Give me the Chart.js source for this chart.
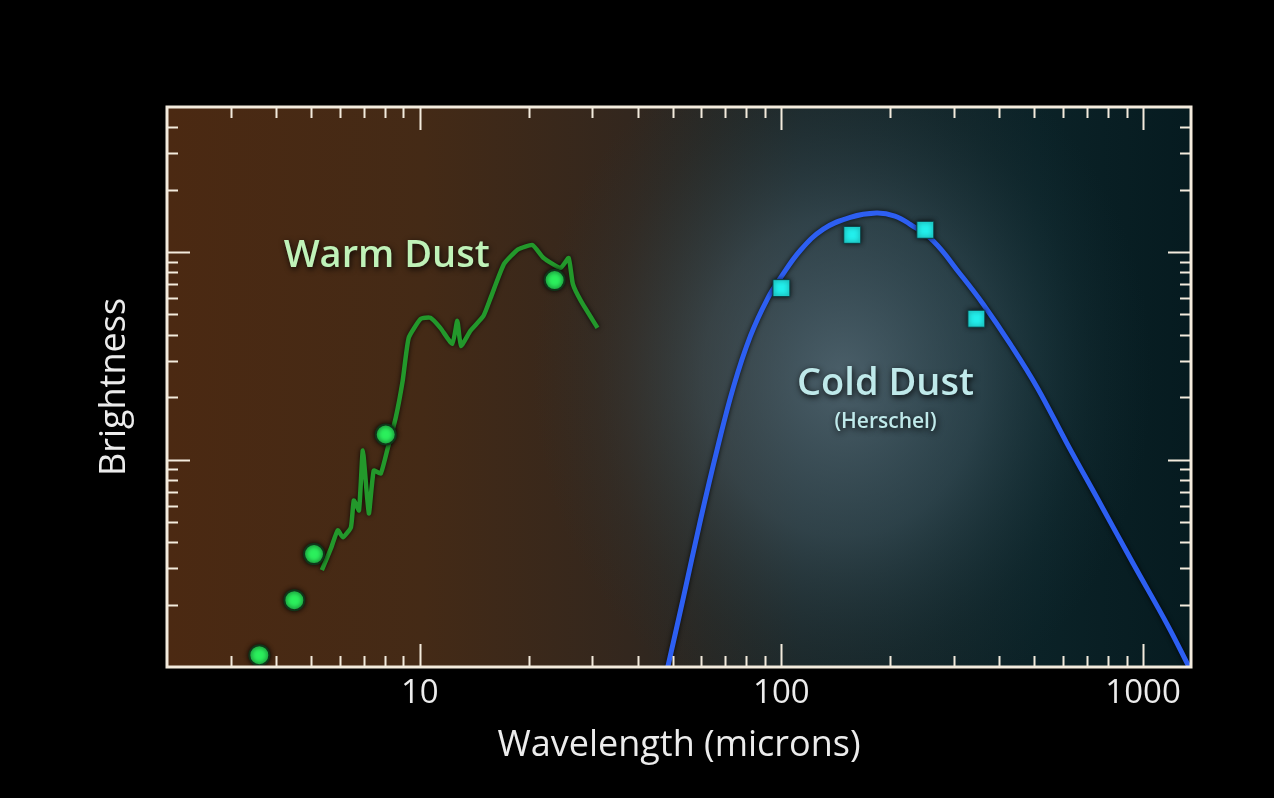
<!DOCTYPE html>
<html>
<head>
<meta charset="utf-8">
<script src="https://cdn.jsdelivr.net/npm/chart.js@4.4.1/dist/chart.umd.min.js"></script>
<style>
    html, body { margin: 0; padding: 0; background: #000; }
    #wrap { width: 1274px; height: 798px; }
</style>
</head>
<body>
<div id="wrap"><canvas id="sedChart" width="1274" height="798"></canvas></div>
<script>
// warm dust spectrum (wavelength in microns, brightness)
const spectrumWave = [5.36, 5.68, 5.93, 6.13, 6.45, 6.57, 6.79, 6.96, 7.23, 7.46, 7.80, 8.16, 8.58, 8.97, 9.32,
    10.06, 10.7, 11.4, 12.3, 12.7, 13.0, 13.8, 15.0, 15.7, 17.1, 18.7, 20.5, 22.0, 24.5, 25.8, 26.5, 27.9, 31.0];
const spectrumFlux = [0.293, 0.373, 0.456, 0.422, 0.471, 0.635, 0.569, 1.105, 0.550, 0.885, 0.856, 1.14, 1.59, 2.40, 3.86,
    4.76, 4.82, 4.31, 3.61, 4.66, 3.53, 4.17, 4.92, 6.01, 8.76, 10.3, 10.8, 9.36, 8.38, 9.36, 7.02, 5.81, 4.31];

// warm dust photometry (green dots)
const warmWave = [3.6, 4.5, 5.1, 8.05, 23.6];
const warmFlux = [0.114, 0.21, 0.35, 1.32, 7.33];

// Herschel photometry (cyan squares)
const coldWave = [100, 157, 250, 346];
const coldFlux = [6.7, 12.1, 12.8, 4.77];

// cold dust fit (blue curve)
const fitWave = [48.5, 53.6, 59.7, 66.6, 73.7, 82.1, 91.5, 99.4, 112.9, 130.6, 155, 183, 206, 227, 263,
    312, 361, 429, 510, 617, 761, 938, 1165, 1340];
const fitFlux = [0.1, 0.217, 0.509, 1.14, 2.24, 3.94, 5.95, 7.5, 10.2, 12.9, 14.7, 15.4, 14.9, 13.6, 11.3,
    7.84, 5.62, 3.61, 2.22, 1.19, 0.614, 0.316, 0.161, 0.1];

// axis ticks
const xLabelTicks = [10, 100, 1000];
const xMinorTicks = [3, 4, 5, 6, 7, 8, 9, 20, 30, 40, 50, 60, 70, 80, 90, 200, 300, 400, 500, 600, 700, 800, 900];
const yMajorTicks = [1, 10];
const yMinorTicks = [0.2, 0.3, 0.4, 0.5, 0.6, 0.7, 0.8, 0.9, 2, 3, 4, 5, 6, 7, 8, 9, 20, 30, 40];

const tickColor = "#f3ebdd";

function pairs(xs, ys) {
    return xs.map((x, i) => ({ x: x, y: ys[i] }));
}

const backdrop = {
    id: "backdrop",
    beforeDraw(chart) {
        const { ctx, chartArea: a } = chart;
        ctx.save();
        ctx.fillStyle = "#000";
        ctx.fillRect(0, 0, chart.width, chart.height);

        const lg = ctx.createLinearGradient(a.left, 0, a.right, 0);
        lg.addColorStop(0, "#4b2912");
        lg.addColorStop(0.25, "#442a16");
        lg.addColorStop(0.45, "#33271e");
        lg.addColorStop(0.62, "#1b2628");
        lg.addColorStop(0.85, "#0b2227");
        lg.addColorStop(1, "#061b20");
        ctx.fillStyle = lg;
        ctx.fillRect(a.left, a.top, a.width, a.height);

        // soft glow behind the cold dust curve
        ctx.beginPath();
        ctx.rect(a.left, a.top, a.width, a.height);
        ctx.clip();
        const cx = a.left + a.width * 0.66;
        const cy = a.top + a.height * 0.48;
        ctx.translate(cx, cy);
        ctx.scale(1, 1.15);
        const rg = ctx.createRadialGradient(0, 0, 0, 0, 0, 310);
        rg.addColorStop(0, "rgba(105,130,145,0.62)");
        rg.addColorStop(0.45, "rgba(80,108,122,0.4)");
        rg.addColorStop(0.8, "rgba(45,75,85,0.12)");
        rg.addColorStop(1, "rgba(30,60,70,0)");
        ctx.fillStyle = rg;
        ctx.fillRect(-400, -400, 800, 800);
        ctx.restore();
    }
};

const glowLines = {
    id: "glowLines",
    beforeDatasetDraw(chart) {
        const ctx = chart.ctx;
        ctx.save();
        ctx.shadowColor = "rgba(0,0,0,0.85)";
        ctx.shadowBlur = 5;
    },
    afterDatasetDraw(chart) {
        chart.ctx.restore();
    }
};

const frameAndLabels = {
    id: "frameAndLabels",
    afterDraw(chart) {
        const { ctx, chartArea: a, scales } = chart;
        const xs = scales.x, ys = scales.y;
        ctx.save();

        // annotations
        ctx.textAlign = "center";
        ctx.textBaseline = "middle";
        ctx.shadowColor = "rgba(0,0,0,0.9)";
        ctx.shadowBlur = 6;
        ctx.shadowOffsetX = 1;
        ctx.shadowOffsetY = 2;
        ctx.font = "600 38px 'Open Sans'";
        ctx.fillStyle = "#bff2b8";
        ctx.fillText("Warm Dust", xs.getPixelForValue(8.1), ys.getPixelForValue(9.6));
        ctx.fillStyle = "#bfe9ea";
        ctx.fillText("Cold Dust", xs.getPixelForValue(194), ys.getPixelForValue(2.32));
        ctx.font = "600 21px 'Open Sans'";
        ctx.fillText("(Herschel)", xs.getPixelForValue(194), ys.getPixelForValue(1.52));

        ctx.shadowColor = "transparent";
        ctx.shadowBlur = 0;
        ctx.shadowOffsetX = 0;
        ctx.shadowOffsetY = 0;

        // inward ticks on all four sides
        ctx.strokeStyle = tickColor;
        ctx.lineWidth = 2;
        ctx.beginPath();
        const xTick = (v, len) => {
            const px = Math.round(xs.getPixelForValue(v)) + 0.5;
            ctx.moveTo(px, a.bottom); ctx.lineTo(px, a.bottom - len);
            ctx.moveTo(px, a.top); ctx.lineTo(px, a.top + len);
        };
        const yTick = (v, len) => {
            const py = Math.round(ys.getPixelForValue(v)) + 0.5;
            ctx.moveTo(a.left, py); ctx.lineTo(a.left + len, py);
            ctx.moveTo(a.right, py); ctx.lineTo(a.right - len, py);
        };
        xMinorTicks.forEach(v => xTick(v, 11));
        xLabelTicks.forEach(v => xTick(v, 23));
        yMinorTicks.forEach(v => yTick(v, 11));
        yMajorTicks.forEach(v => yTick(v, 23));
        ctx.stroke();

        ctx.lineWidth = 3;
        ctx.strokeRect(a.left, a.top, a.width, a.height);
        ctx.restore();
    }
};

new Chart(document.getElementById("sedChart"), {
    type: "scatter",
    data: {
        datasets: [
            {
                label: "Warm Dust photometry",
                data: pairs(warmWave, warmFlux),
                pointStyle: "circle",
                pointRadius: 10,
                pointBackgroundColor: "#2bef5c",
                pointBorderColor: "#10361a",
                pointBorderWidth: 2,
                order: 0
            },
            {
                label: "Herschel photometry",
                data: pairs(coldWave, coldFlux),
                pointStyle: "rect",
                pointRadius: 12,
                pointBackgroundColor: "#22efec",
                pointBorderColor: "#0d3b40",
                pointBorderWidth: 1,
                order: 0
            },
            {
                label: "Warm Dust spectrum",
                data: pairs(spectrumWave, spectrumFlux),
                showLine: true,
                borderColor: "#23982b",
                borderWidth: 4.5,
                pointRadius: 0,
                tension: 0.15,
                order: 1
            },
            {
                label: "Cold Dust fit",
                data: pairs(fitWave, fitFlux),
                showLine: true,
                borderColor: "#2d5ff2",
                borderWidth: 5,
                pointRadius: 0,
                tension: 0.4,
                order: 1
            }
        ]
    },
    options: {
        responsive: false,
        animation: false,
        layout: { padding: { left: 0, right: 83, top: 107, bottom: 0 } },
        plugins: {
            legend: { display: false },
            tooltip: { enabled: false }
        },
        scales: {
            x: {
                type: "logarithmic",
                min: 2,
                max: 1357,
                grid: { display: false, drawTicks: false },
                border: { display: false },
                afterBuildTicks: scale => {
                    scale.ticks = xLabelTicks.map(v => ({ value: v }));
                },
                afterFit: scale => { scale.height = 131; },
                ticks: {
                    autoSkip: false,
                    maxRotation: 0,
                    padding: 7,
                    color: "#ececec",
                    font: { family: "'Open Sans'", size: 33 },
                    callback: value => String(value)
                },
                title: {
                    display: true,
                    text: "Wavelength (microns)",
                    color: "#ececec",
                    font: { family: "'Open Sans'", size: 36 },
                    padding: { top: 0, bottom: 31 }
                }
            },
            y: {
                type: "logarithmic",
                min: 0.1,
                max: 50,
                grid: { display: false, drawTicks: false },
                border: { display: false },
                ticks: { display: false },
                afterFit: scale => { scale.width = 167; },
                title: {
                    display: true,
                    text: "Brightness",
                    color: "#ececec",
                    font: { family: "'Open Sans'", size: 36 },
                    padding: { top: 93, bottom: 0 }
                }
            }
        }
    },
    plugins: [backdrop, glowLines, frameAndLabels]
});
</script>
</body>
</html>
